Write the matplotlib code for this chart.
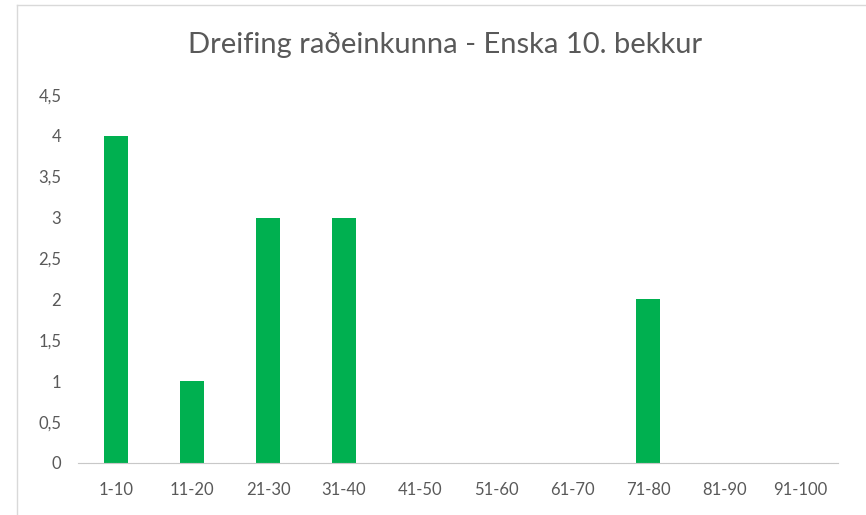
import matplotlib.pyplot as plt
from matplotlib.lines import Line2D
import numpy as np

categories = ['1-10', '11-20', '21-30', '31-40', '41-50', '51-60', '61-70', '71-80', '81-90', '91-100']
counts = [4, 1, 3, 3, 0, 0, 0, 2, 0, 0]
y_ticks = [0, 0.5, 1, 1.5, 2, 2.5, 3, 3.5, 4, 4.5]
y_labels = ['0', '0,5', '1', '1,5', '2', '2,5', '3', '3,5', '4', '4,5']

plt.rcParams['font.family'] = ['Lato', 'DejaVu Sans']

fig = plt.figure(figsize=(8.66, 5.15), dpi=100)
ax = fig.add_axes([0.090, 0.101, 0.878, 0.715])

x = np.arange(len(categories))
ax.bar(x, counts, width=0.32, color='#00B050')

ax.set_xlim(-0.5, len(categories) - 0.5)
ax.set_ylim(0, 4.5)
ax.set_xticks(x)
ax.set_xticklabels(categories, fontsize=12, color='#595959')
ax.set_yticks(y_ticks)
ax.set_yticklabels(y_labels, fontsize=12, color='#595959')
ax.tick_params(length=0, pad=14)
ax.tick_params(axis='y', pad=12)

for s in ['top', 'right', 'left']:
    ax.spines[s].set_visible(False)
ax.spines['bottom'].set_color('#c8c8c8')
ax.spines['bottom'].set_linestyle((0, (1, 0.5)))

fig.text(0.514, 0.912, 'Dreifing raðeinkunna - Enska 10. bekkur',
         ha='center', va='center', fontsize=21, color='#595959')

# chart area frame (left and top edges visible)
fig.add_artist(Line2D([17 / 866, 17 / 866], [0, 1 - 5 / 515], color='#d9d9d9', lw=1))
fig.add_artist(Line2D([17 / 866, 1], [1 - 5 / 515, 1 - 5 / 515], color='#d9d9d9', lw=1))

fig.savefig('out.png', dpi=100)
